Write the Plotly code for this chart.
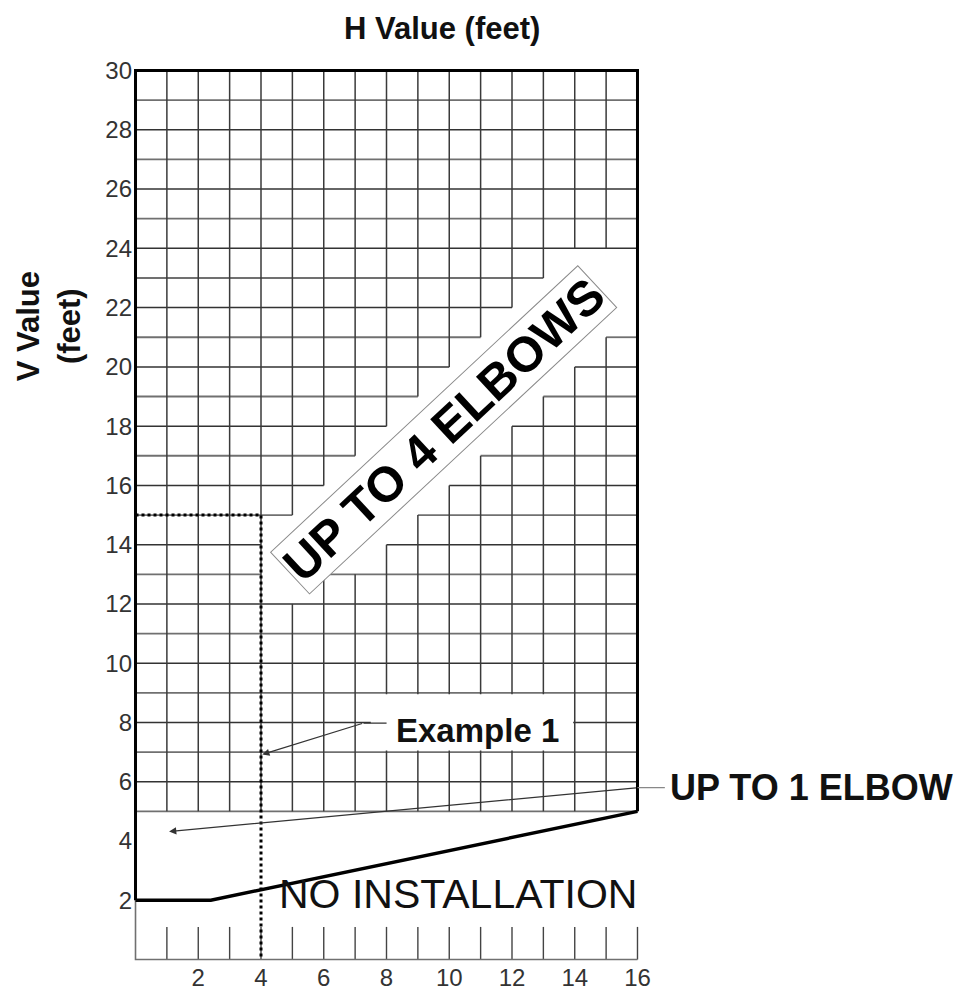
import plotly.graph_objects as go

# ---------------- data ----------------
x_tick_vals = [2, 4, 6, 8, 10, 12, 14, 16]
y_tick_vals = [2, 4, 6, 8, 10, 12, 14, 16, 18, 20, 22, 24, 26, 28, 30]

h_max = 16          # H value range (feet)
v_max = 30          # V value range (feet)
grid_v_start = 5    # chart grid begins at V = 5 ft

# cells left blank around the "UP TO 4 ELBOWS" label (row = V cell, H from..to)
blank_row = [12, 13, 14, 15, 16, 17, 18, 19, 20, 21, 22, 23]
blank_from = [4, 4, 4, 5, 6, 7, 8, 9, 10, 11, 12, 13]
blank_to = [6, 8, 9, 10, 11, 12, 13, 14, 15, 16, 16, 16]

# "No installation" limit line
limit_h = [0, 2.4, 16]
limit_v = [2, 2, 5]

# Example 1 (H = 4 ft, V = 15 ft)
example_h = [0, 4, 4]
example_v = [15, 15, 0]

FONT = "Liberation Sans, Arial, sans-serif"

# ---------------- grid geometry from cell mask ----------------
present = set()
for j in range(grid_v_start, v_max):
    for i in range(h_max):
        present.add((i, j))
for r, a, b in zip(blank_row, blank_from, blank_to):
    for i in range(a, b):
        present.discard((i, r))


def has(i, j):
    return (i, j) in present


hx_dark, hy_dark, hx_light, hy_light = [], [], [], []
for k in range(grid_v_start, v_max + 1):
    start = None
    for i in range(h_max + 1):
        on = i < h_max and (has(i, k - 1) or has(i, k))
        if on and start is None:
            start = i
        if not on and start is not None:
            if k % 2 == 0:
                hx_dark += [start, i, None]
                hy_dark += [k, k, None]
            else:
                hx_light += [start, i, None]
                hy_light += [k, k, None]
            start = None

vx, vy = [], []
for i in range(h_max + 1):
    start = None
    for j in range(grid_v_start, v_max + 1):
        on = j < v_max and (has(i - 1, j) or has(i, j))
        if on and start is None:
            start = j
        if not on and start is not None:
            vx += [i, i, None]
            vy += [start, j, None]
            start = None

# short ticks at the bottom
tx, ty = [], []
for i in range(1, h_max + 1):
    tx += [i, i, None]
    ty += [0, 1.1, None]

fig = go.Figure()


def add_line(xs, ys, color, width, dash="solid"):
    fig.add_trace(go.Scatter(x=xs, y=ys, mode="lines",
                             line=dict(color=color, width=width, dash=dash),
                             hoverinfo="skip", showlegend=False,
                             connectgaps=False))


add_line(hx_light, hy_light, "#707070", 1.8)
add_line(hx_dark, hy_dark, "#333333", 1.5)
add_line(vx, vy, "#3a3a3a", 1.5)
add_line(tx, ty, "#444444", 1.4)
# thin frame at the bottom
add_line([0, 0, h_max], [limit_v[0], 0, 0], "#707070", 1.6)
# thick borders
add_line([0, 0, h_max, h_max], [limit_v[0], v_max, v_max, limit_v[-1]], "#000000", 3)
# limit line
add_line(limit_h, limit_v, "#000000", 3.5)
# example 1 dotted path
add_line(example_h, example_v, "#000000", 3, "dot")

# white box behind "Example 1"
fig.add_shape(type="rect", x0=7.5, x1=13.95, y0=7.05, y1=8.95,
              fillcolor="white", line=dict(width=0), layer="above")

annotations = [
    dict(text="<b>H Value (feet)</b>", x=0.6095, y=1.0436, xref="paper", yref="paper",
         xanchor="center", yanchor="middle", showarrow=False,
         font=dict(size=31, color="#111", family=FONT)),
    dict(text="<b>V Value<br>(feet)</b>", x=-0.165, y=0.7103, xref="paper", yref="paper",
         xanchor="center", yanchor="middle", showarrow=False, textangle=-90,
         font=dict(size=31, color="#111", family=FONT)),
    dict(text="<b>UP TO 4 ELBOWS</b>", x=9.81, y=17.88, xref="x", yref="y",
         xanchor="center", yanchor="middle",
         showarrow=False, textangle=-43, bgcolor="white",
         bordercolor="#8a8a8a", borderwidth=1, borderpad=1,
         font=dict(size=49, color="#000", family=FONT)),
    dict(text="NO INSTALLATION", x=10.27, y=2.2, xref="x", yref="y",
         xanchor="center", yanchor="middle", showarrow=False,
         font=dict(size=41, color="#111", family=FONT)),
    dict(text="<b>Example 1</b>", x=10.89, y=7.72, xref="x", yref="y",
         xanchor="center", yanchor="middle", showarrow=False,
         font=dict(size=33, color="#111", family=FONT)),
    dict(text="<b>UP TO 1 ELBOW</b>", x=1.0552, y=0.1946, xref="paper", yref="paper",
         xanchor="left", yanchor="middle", showarrow=False,
         font=dict(size=36, color="#111", family=FONT)),
    # arrows
    dict(text="", x=4.04, y=6.92, ax=7.27, ay=7.98, xref="x", yref="y",
         axref="x", ayref="y", showarrow=True, arrowhead=2, arrowsize=1.2,
         arrowwidth=1.2, arrowcolor="#333"),
    dict(text="", x=7.27, y=7.98, ax=8.05, ay=7.98, xref="x", yref="y",
         axref="x", ayref="y", showarrow=True, arrowhead=0,
         arrowwidth=1.2, arrowcolor="#333"),
    dict(text="", x=1.07, y=4.32, ax=16.0, ay=5.8, xref="x", yref="y",
         axref="x", ayref="y", showarrow=True, arrowhead=2, arrowsize=1.2,
         arrowwidth=1.2, arrowcolor="#333"),
    dict(text="", x=16.0, y=5.8, ax=16.92, ay=5.8, xref="x", yref="y",
         axref="x", ayref="y", showarrow=True, arrowhead=0,
         arrowwidth=1.2, arrowcolor="#888"),
]

fig.update_layout(
    width=973, height=996,
    margin=dict(l=125, r=341, t=59, b=43),
    paper_bgcolor="white", plot_bgcolor="white",
    annotations=annotations,
    xaxis=dict(range=[-0.08, 16.08], tickvals=x_tick_vals, showgrid=False,
               zeroline=False, showline=False, ticks="",
               tickfont=dict(size=24, color="#333", family=FONT)),
    yaxis=dict(range=[-0.05, 30.12], tickvals=y_tick_vals, showgrid=False,
               zeroline=False, showline=False, ticks="",
               tickfont=dict(size=24, color="#333", family=FONT)),
)

fig.write_html("out.html")
